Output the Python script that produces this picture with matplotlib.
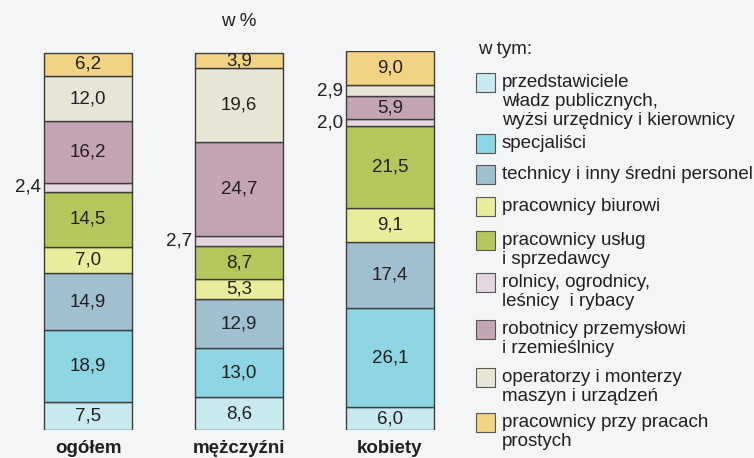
import matplotlib.pyplot as plt
from matplotlib.patches import Rectangle

plt.rcParams['font.family'] = ['Liberation Sans', 'DejaVu Sans']

# grupy i kategorie
groups = ['ogółem', 'mężczyźni', 'kobiety']
categories = [
    ['przedstawiciele', 'władz publicznych,', 'wyżsi urzędnicy i kierownicy'],
    ['specjaliści'],
    ['technicy i inny średni personel'],
    ['pracownicy biurowi'],
    ['pracownicy usług', 'i sprzedawcy'],
    ['rolnicy, ogrodnicy,', 'leśnicy  i rybacy'],
    ['robotnicy przemysłowi', 'i rzemieślnicy'],
    ['operatorzy i monterzy', 'maszyn i urządzeń'],
    ['pracownicy przy pracach', 'prostych'],
]
colors = ['#c9e9f0', '#8dd5e2', '#a0c0d0', '#e9ec9a', '#b7c65c',
          '#e6d6df', '#c3a5b4', '#e7e6d4', '#f2d283']

# wartości w % (kolejność kategorii jak wyżej, od dołu słupka)
ogolem = [7.5, 18.9, 14.9, 7.0, 14.5, 2.4, 16.2, 12.0, 6.2]
mezczyzni = [8.6, 13.0, 12.9, 5.3, 8.7, 2.7, 24.7, 19.6, 3.9]
kobiety = [6.0, 26.1, 17.4, 9.1, 21.5, 2.0, 5.9, 2.9, 9.0]
values = [ogolem, mezczyzni, kobiety]

bg = '#f3f5f7'
txt = '#231f20'
fs = 13.5

fig = plt.figure(figsize=(7.54, 4.58), dpi=100, facecolor=bg)
W, H = 754, 458

# osie dla słupków (piksele: x 0..440, y 51..430)
ax = fig.add_axes([0, (H - 430) / H, 440 / W, 379 / H])
ax.set_facecolor(bg)
ax.set_xlim(-88 / 151, (440 - 88) / 151)
ax.set_ylim(0, 100)
ax.axis('off')

width = 88 / 151
for i, vals in enumerate(values):
    bottom = 0
    for j, v in enumerate(vals):
        ax.bar(i, v, width, bottom=bottom, color=colors[j],
               edgecolor='#3d3d3d', linewidth=1.0)
        mid = bottom + v / 2
        label = f'{v:.1f}'.replace('.', ',')
        if v < 3:
            ax.text(i - width / 2 - 0.02, mid, label, ha='right',
                    va='center', fontsize=fs, color=txt)
        else:
            ax.text(i, mid, label, ha='center', va='center',
                    fontsize=fs, color=txt)
        bottom += v
    ax.text(i, -4.8, groups[i], ha='center', va='center', fontsize=fs,
            fontweight='bold', color=txt, clip_on=False)

# napis nad wykresem i legenda (w pikselach)
lax = fig.add_axes([0, 0, 1, 1])
lax.set_xlim(0, W)
lax.set_ylim(H, 0)
lax.axis('off')
lax.patch.set_alpha(0)

lax.text(239, 21, 'w %', ha='center', va='center', fontsize=fs, color=txt)
lax.text(478, 50, 'w tym:', ha='left', va='center', fontsize=fs, color=txt)

patch_tops = [73, 134, 165, 197, 231, 273, 320, 368, 413]
line_h = 19
for top, cat, col in zip(patch_tops, categories, colors):
    lax.add_patch(Rectangle((476, top), 19, 19, facecolor=col,
                            edgecolor='#555555', linewidth=0.8))
    for k, line in enumerate(cat):
        lax.text(502, top + 9.5 + k * line_h, line, ha='left',
                 va='center', fontsize=fs, color=txt)

fig.savefig('out.png', dpi=100, facecolor=bg)
